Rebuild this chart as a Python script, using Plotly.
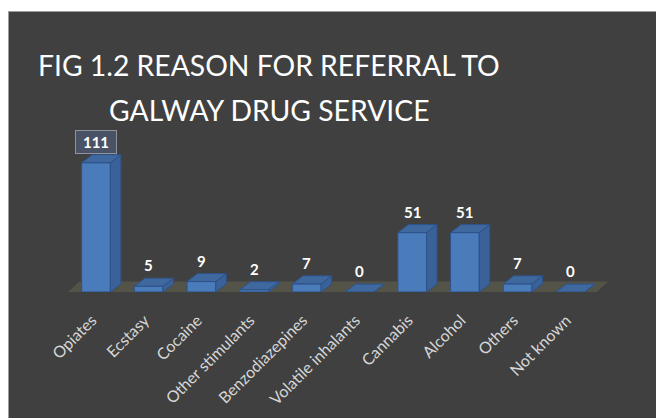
import plotly.graph_objects as go

# ---- data ----
categories = ["Opiates", "Ecstasy", "Cocaine", "Other stimulants", "Benzodiazepines",
              "Volatile inhalants", "Cannabis", "Alcohol", "Others", "Not known"]
referrals = [111, 5, 9, 2, 7, 0, 51, 51, 7, 0]
title_lines = ["FIG 1.2 REASON FOR REFERRAL TO", "GALWAY DRUG SERVICE"]

# ---- page geometry (pixels) ----
W, H = 656, 418
M_L, M_R, M_T, M_B = 30, 30, 30, 126
PLOT_W = W - M_L - M_R
PLOT_H = H - M_T - M_B
FIRST_CAT_PX = 96          # page x of the first category centre
CAT_STEP_PX = 52.7         # page distance between categories
UNIT_PX = 1.165            # page pixels per referral

x0 = -(FIRST_CAT_PX - M_L) / CAT_STEP_PX
x1 = x0 + PLOT_W / CAT_STEP_PX
y1 = PLOT_H / UNIT_PX

def px_to_paper_x(px):
    return (px - M_L) / PLOT_W

def px_to_paper_y(py):
    return (H - M_B - py) / PLOT_H

# 3-D look: depth offsets expressed in axis units
BAR_W = 0.545
BAR_DX, BAR_DY = 10.5 / CAT_STEP_PX, 8.0 / UNIT_PX
FLOOR_DX, FLOOR_DY = 11.5 / CAT_STEP_PX, 10.5 / UNIT_PX
LABEL_NUDGE = -4 / CAT_STEP_PX   # rotated category labels sit slightly left

FRONT = "#4a7bbb"
SIDE = "#3a6298"
TOP = "#3f689f"
EDGE = "#2e5288"
BG = "#404040"

fig = go.Figure()

# side and top faces of each column
for i, v in enumerate(referrals):
    r = i + BAR_W / 2
    l = i - BAR_W / 2
    fig.add_trace(go.Scatter(
        x=[r, r + BAR_DX, r + BAR_DX, r, r],
        y=[0, BAR_DY, v + BAR_DY, v, 0],
        fill="toself", fillcolor=SIDE, mode="lines",
        line=dict(color=EDGE, width=1), hoverinfo="skip", showlegend=False))
    fig.add_trace(go.Scatter(
        x=[l, r, r + BAR_DX, l + BAR_DX, l],
        y=[v, v, v + BAR_DY, v + BAR_DY, v],
        fill="toself", fillcolor=TOP, mode="lines",
        line=dict(color=EDGE, width=1), hoverinfo="skip", showlegend=False))

# front faces
fig.add_trace(go.Bar(
    x=list(range(len(categories))), y=referrals, width=BAR_W,
    marker=dict(color=FRONT, line=dict(color=EDGE, width=1)),
    hoverinfo="skip", showlegend=False))

# value labels above the columns (the largest one sits in a box)
for i, v in enumerate(referrals):
    boxed = v == max(referrals)
    extra = dict(bgcolor="#4a5366", bordercolor="#8d929b", borderwidth=1,
                 borderpad=3, width=34, height=16) if boxed else {}
    fig.add_annotation(
        x=i, y=v, xref="x", yref="y", text=f"<b>{v}</b>", showarrow=False,
        yanchor="middle", yshift=21,
        font=dict(family="Lato", size=15, color="white"), **extra)

# title
for k, line in enumerate(title_lines):
    fig.add_annotation(
        x=px_to_paper_x(269), y=px_to_paper_y([65, 110][k]),
        xref="paper", yref="paper", text=line, showarrow=False,
        xanchor="center", yanchor="middle",
        font=dict(family="Lato", size=28.3, color="white"))

n = len(categories)
floor_path = (f"M {-0.53} 0 L {n - 0.5} 0 L {n - 0.5 + FLOOR_DX} {FLOOR_DY} "
              f"L {-0.53 + FLOOR_DX} {FLOOR_DY} Z")

fig.update_layout(
    width=W, height=H,
    margin=dict(l=M_L, r=M_R, t=M_T, b=M_B, autoexpand=False),
    paper_bgcolor="white", plot_bgcolor="rgba(0,0,0,0)",
    shapes=[
        dict(type="rect", xref="paper", yref="paper", layer="below",
             x0=px_to_paper_x(8.5), x1=px_to_paper_x(W + 2),
             y0=px_to_paper_y(H + 2), y1=px_to_paper_y(11.5),
             fillcolor=BG, line=dict(color="#9c9c9c", width=1)),
        dict(type="path", xref="x", yref="y", layer="below", path=floor_path,
             fillcolor="#545348", line=dict(width=0)),
    ],
    xaxis=dict(range=[x0, x1], tickvals=[i + LABEL_NUDGE for i in range(n)],
               ticktext=categories,
               tickangle=-45, showgrid=False, zeroline=False, showline=False,
               ticks="", ticklabelstandoff=15, automargin=False,
               tickfont=dict(family="Lato", size=16, color="#d6d6d6")),
    yaxis=dict(range=[0, y1], showgrid=False, zeroline=False, showline=False,
               showticklabels=False, ticks="", automargin=False),
)

fig.write_html("out.html", config={"displayModeBar": False})
